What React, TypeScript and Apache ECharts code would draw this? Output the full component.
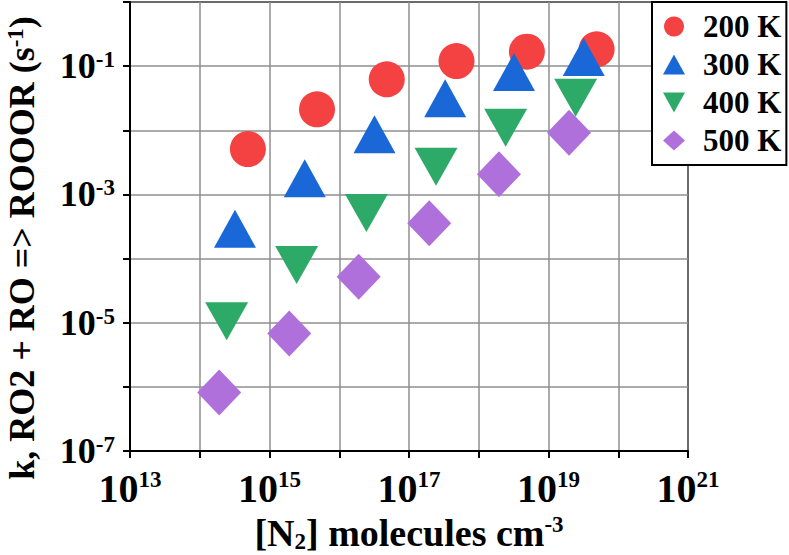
import React, { useEffect, useRef } from 'react';
import * as echarts from 'echarts';

const seriesNames = ['200 K', '300 K', '400 K', '500 K'];

const x200 = [4.9e14, 4.8e15, 4.8e16, 4.8e17, 4.9e18, 4.9e19];
const y200 = [5.1e-3, 2.12e-2, 6.24e-2, 1.2e-1, 1.68e-1, 1.83e-1];

const x300 = [3.2e14, 3.2e15, 3.2e16, 3.3e17, 3.2e18, 3.2e19];
const y300 = [2.92e-4, 1.78e-3, 8.65e-3, 3.15e-2, 8.11e-2, 1.39e-1];

const x400 = [2.43e14, 2.45e15, 2.45e16, 2.44e17, 2.43e18, 2.45e19];
const y400 = [1.05e-5, 7.94e-5, 5.13e-4, 2.71e-3, 1.1e-2, 3.21e-2];

const x500 = [1.9e14, 1.92e15, 1.9e16, 1.95e17, 1.95e18, 1.97e19];
const y500 = [8.13e-7, 6.82e-6, 5.21e-5, 3.55e-4, 2.06e-3, 9.18e-3];

const xMin = 1e13;
const xMax = 1e21;
const yMin = 1e-7;
const yMax = 1;

const colors = ['#F44242', '#1A68D8', '#2EAA68', '#B070DC'];

const FONT = 'Liberation Serif';

export default function App() {
  const ref = useRef<HTMLDivElement>(null);

  useEffect(() => {
    document.body.style.margin = '0';
    const chart = echarts.init(ref.current!, null, { renderer: 'svg' });

    const pairs = (xs: number[], ys: number[]) => xs.map((x, i) => [x, ys[i]]);

    const baseText = { fontFamily: FONT, fontWeight: 'bold' as const, color: '#000' };

    const expLabel = (v: number) => {
      const e = Math.round(Math.log10(v));
      return e % 2 !== 0 ? `{a|10}{b|${e}}` : '';
    };

    const downTri = 'path://M0,0L10,0L5,9Z';

    const option: any = {
      animation: false,
      backgroundColor: '#fff',
      grid: {
        left: 130,
        right: 101,
        top: 2,
        bottom: 104,
        show: true,
        borderColor: '#000',
        borderWidth: 2,
        containLabel: false,
        outerBoundsMode: 'none',
      },
      legend: {
        left: 652,
        top: 2,
        orient: 'vertical',
        backgroundColor: '#fff',
        borderColor: '#000',
        borderWidth: 2,
        borderRadius: 0,
        padding: [9, 5, 9, 11],
        itemWidth: 22,
        itemHeight: 20,
        itemGap: 7,
        data: seriesNames,
        textStyle: { ...baseText, fontSize: 31, lineHeight: 30, padding: [0, 0, 0, 13] },
      },
      xAxis: {
        type: 'log',
        logBase: 10,
        min: xMin,
        max: xMax,
        interval: 1,
        name: '[N{sub|2}] molecules cm{sup|-3}',
        nameLocation: 'middle',
        nameGap: 52,
        nameTextStyle: {
          ...baseText,
          fontSize: 38,
          lineHeight: 40,
          rich: {
            sub: { ...baseText, fontSize: 23, lineHeight: 14, verticalAlign: 'bottom' },
            sup: { ...baseText, fontSize: 23, lineHeight: 22, verticalAlign: 'top' },
          },
        },
        axisLine: { show: true, lineStyle: { color: '#000', width: 2 } },
        axisTick: { show: true, inside: false, length: 7, lineStyle: { color: '#000', width: 2 } },
        splitLine: { show: true, lineStyle: { color: '#8f8f8f', width: 1.5 } },
        axisLabel: {
          margin: 17,
          formatter: expLabel,
          rich: {
            a: { ...baseText, fontSize: 40, lineHeight: 40 },
            b: { ...baseText, fontSize: 23, lineHeight: 22, verticalAlign: 'top' },
          },
        },
      },
      yAxis: {
        type: 'log',
        logBase: 10,
        min: yMin,
        max: yMax,
        interval: 1,
        axisLine: { show: true, lineStyle: { color: '#000', width: 2 } },
        axisTick: { show: true, inside: false, length: 7, lineStyle: { color: '#000', width: 2 } },
        splitLine: { show: true, lineStyle: { color: '#8f8f8f', width: 1.5 } },
        axisLabel: {
          margin: 15,
          formatter: expLabel,
          rich: {
            a: { ...baseText, fontSize: 36, lineHeight: 36 },
            b: { ...baseText, fontSize: 23, lineHeight: 22, verticalAlign: 'top' },
          },
        },
      },
      graphic: [
        {
          type: 'text',
          x: 22,
          y: 248,
          rotation: Math.PI / 2,
          style: {
            text: 'k, RO2 + RO => ROOOR (s{sup|-1})',
            fontFamily: FONT,
            fontWeight: 'bold',
            fontSize: 36,
            lineHeight: 36,
            fill: '#000',
            align: 'center',
            verticalAlign: 'middle',
            rich: {
              sup: {
                fontFamily: FONT,
                fontWeight: 'bold',
                fontSize: 23,
                lineHeight: 22,
                verticalAlign: 'top',
                fill: '#000',
              },
            },
          },
        },
      ],
      series: [
        {
          name: seriesNames[0],
          type: 'scatter',
          symbol: 'circle',
          symbolSize: 36,
          itemStyle: { color: colors[0], opacity: 1 },
          data: pairs(x200, y200),
        },
        {
          name: seriesNames[1],
          type: 'scatter',
          symbol: 'triangle',
          symbolSize: [42, 38],
          itemStyle: { color: colors[1], opacity: 1 },
          data: pairs(x300, y300),
        },
        {
          name: seriesNames[2],
          type: 'scatter',
          symbol: downTri,
          symbolKeepAspect: false,
          symbolSize: [43, 38],
          itemStyle: { color: colors[2], opacity: 1 },
          data: pairs(x400, y400),
        },
        {
          name: seriesNames[3],
          type: 'scatter',
          symbol: 'diamond',
          symbolSize: [44, 46],
          itemStyle: { color: colors[3], opacity: 1 },
          data: pairs(x500, y500),
        },
      ],
    };

    chart.setOption(option);
    return () => chart.dispose();
  }, []);

  return <div ref={ref} style={{ width: 789, height: 555 }} />;
}
